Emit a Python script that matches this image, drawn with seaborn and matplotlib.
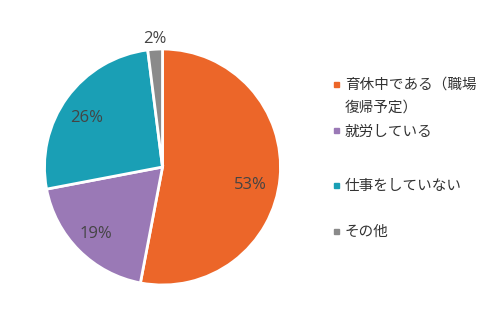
import matplotlib
matplotlib.use("Agg")
import matplotlib.pyplot as plt
import seaborn as sns
import numpy as np

sns.set_theme(style="white")
plt.rcParams['font.family'] = ['Noto Sans CJK JP', 'DejaVu Sans']

categories = ["育休中である（職場\n復帰予定）", "就労している", "仕事をしていない", "その他"]
values = [53, 19, 26, 2]
colors = ["#EC6629", "#9A79B6", "#1A9FB5", "#8A8A8A"]
pct_labels = ["53%", "19%", "26%", "2%"]

W, H = 495, 331
fig = plt.figure(figsize=(W / 100, H / 100), dpi=100)
cx, cy, r = 162.5, 167, 118
ax = fig.add_axes([(cx - r) / W, (H - cy - r) / H, 2 * r / W, 2 * r / H])
wedges, _ = ax.pie(values, colors=colors, startangle=90, counterclock=False,
                   wedgeprops=dict(edgecolor="white", linewidth=2), radius=1.0)
ax.set_xlim(-1.0, 1.0)
ax.set_ylim(-1.0, 1.0)
ax.axis("off")

total = sum(values)
start = 90.0
dists = [0.76, 0.80, 0.77, 1.09]
ang_off = [-6.0, 0.0, 3.0, 0.0]
for v, lab, d, off in zip(values, pct_labels, dists, ang_off):
    ang = start - 360 * v / total / 2 + off
    start -= 360 * v / total
    th = np.deg2rad(ang)
    ax.text(d * np.cos(th), d * np.sin(th), lab, ha="center", va="center",
            fontsize=12, color="#444444", family=["Open Sans", "DejaVu Sans"])

# legend
ys = [84, 131, 185, 231]
for cat, col, y in zip(categories, colors, ys):
    fig.patches.append(plt.Rectangle(((336 - 2.5) / W, 1 - (y + 2.5) / H), 5 / W, 5 / H,
                                     transform=fig.transFigure, color=col))
    fig.text(345 / W, 1 - (y - 6) / H, cat, ha="left", va="top", fontsize=10.5,
             color="#333333", linespacing=1.75)

fig.savefig("out.png", dpi=100)
